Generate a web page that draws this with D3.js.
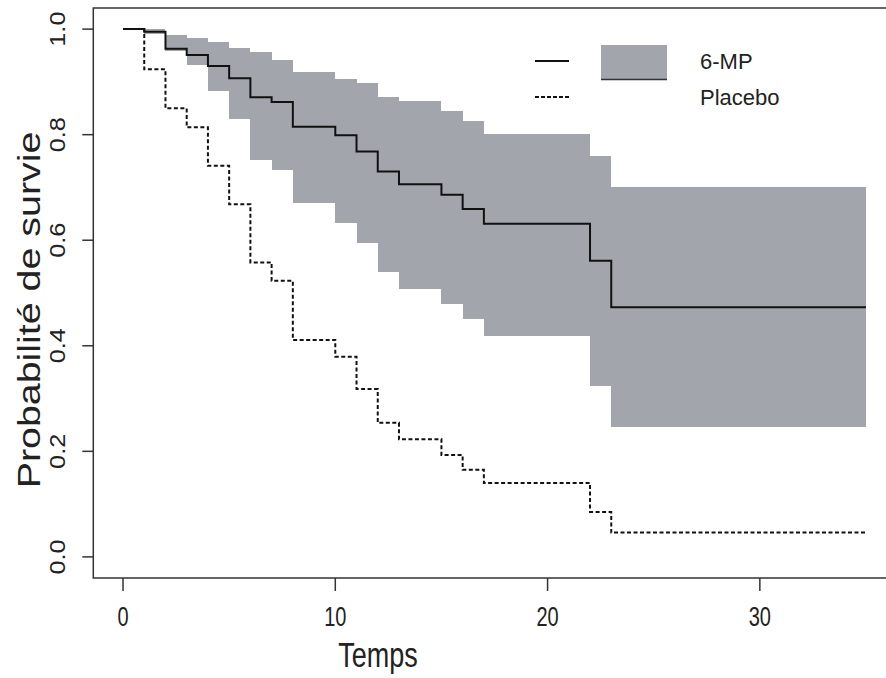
<!DOCTYPE html>
<html>
<head>
<meta charset="utf-8">
<script src="https://cdn.jsdelivr.net/npm/d3@7"></script>
<style>
  html, body { margin: 0; padding: 0; background: #fff; }
  svg { display: block; }
  text { font-family: "Liberation Sans", Arial, Helvetica, sans-serif; fill: #222; }
</style>
</head>
<body>
<div id="chart"></div>
<script>
// Step start times (same for both groups) and the end of follow-up
const stepTimes = [0, 1, 2, 3, 4, 5, 6, 7, 8, 10, 11, 12, 13, 15, 16, 17, 22, 23];
const endTime = 35;

// 6-MP survival with its confidence band
const mpSurv  = [1.0, 0.995, 0.963, 0.951, 0.930, 0.907, 0.871, 0.862, 0.815, 0.799, 0.768, 0.730, 0.706, 0.686, 0.659, 0.631, 0.561, 0.473];
const mpUpper = [1.0, 1.0, 0.989, 0.983, 0.975, 0.965, 0.956, 0.942, 0.919, 0.905, 0.897, 0.872, 0.864, 0.845, 0.826, 0.801, 0.759, 0.701];
const mpLower = [1.0, 0.99, 0.958, 0.932, 0.883, 0.829, 0.752, 0.734, 0.671, 0.633, 0.595, 0.540, 0.507, 0.479, 0.450, 0.419, 0.324, 0.247];

// Placebo survival
const placeboSurv = [1.0, 0.924, 0.850, 0.814, 0.741, 0.668, 0.558, 0.523, 0.411, 0.379, 0.318, 0.254, 0.223, 0.193, 0.165, 0.140, 0.085, 0.046];

const xTicks = [0, 10, 20, 30];
const yTicks = [0.0, 0.2, 0.4, 0.6, 0.8, 1.0];
const legendLabels = ["6-MP", "Placebo"];

const W = 886, H = 678;
const bandColor = "#a2a6ac";

const svg = d3.select("#chart").append("svg")
  .attr("width", W)
  .attr("height", H);

// R-style padded ranges (4% each side)
const x = d3.scaleLinear().domain([-1.4, 36.4]).range([93.3, 895.7]);
const y = d3.scaleLinear().domain([-0.04, 1.04]).range([578, 8]);

// build step points, holding the last value to the end time
function steps(vals) {
  const pts = stepTimes.map((t, i) => ({ t: t, v: vals[i] }));
  pts.push({ t: endTime, v: vals[vals.length - 1] });
  return pts;
}
function bandSteps() {
  const pts = stepTimes.map((t, i) => ({ t: t, lo: mpLower[i], hi: mpUpper[i] }));
  pts.push({ t: endTime, lo: mpLower[mpLower.length - 1], hi: mpUpper[mpUpper.length - 1] });
  return pts;
}

// Confidence band
const area = d3.area()
  .curve(d3.curveStepAfter)
  .x(d => x(d.t))
  .y0(d => y(d.lo))
  .y1(d => y(d.hi));

svg.append("path")
  .datum(bandSteps())
  .attr("d", area)
  .attr("fill", bandColor)
  .attr("shape-rendering", "crispEdges");

const line = d3.line()
  .curve(d3.curveStepAfter)
  .x(d => x(d.t))
  .y(d => y(d.v));

// Placebo (dashed)
svg.append("path")
  .datum(steps(placeboSurv))
  .attr("d", line)
  .attr("fill", "none")
  .attr("stroke", "#111")
  .attr("stroke-width", 2)
  .attr("stroke-dasharray", "4,2.5");

// 6-MP (solid)
svg.append("path")
  .datum(steps(mpSurv))
  .attr("d", line)
  .attr("fill", "none")
  .attr("stroke", "#111")
  .attr("stroke-width", 2);

// Box (right edge falls outside the picture)
svg.append("rect")
  .attr("x", x.range()[0])
  .attr("y", y.range()[1])
  .attr("width", x.range()[1] - x.range()[0])
  .attr("height", y.range()[0] - y.range()[1])
  .attr("fill", "none")
  .attr("stroke", "#333")
  .attr("stroke-width", 1.5);

// X axis
const xAxis = svg.append("g").attr("transform", `translate(0,${y.range()[0]})`);
xAxis.selectAll("line")
  .data(xTicks)
  .join("line")
  .attr("x1", d => x(d)).attr("x2", d => x(d))
  .attr("y1", 0).attr("y2", 13)
  .attr("stroke", "#333").attr("stroke-width", 1.5);
xAxis.selectAll("text")
  .data(xTicks)
  .join("text")
  .attr("transform", d => `translate(${x(d)},48) scale(1,1.35)`)
  .attr("text-anchor", "middle")
  .attr("font-size", 20)
  .text(d => d);

// Y axis
const yAxis = svg.append("g").attr("transform", `translate(${x.range()[0]},0)`);
yAxis.selectAll("line")
  .data(yTicks)
  .join("line")
  .attr("x1", 0).attr("x2", -11)
  .attr("y1", d => y(d)).attr("y2", d => y(d))
  .attr("stroke", "#333").attr("stroke-width", 1.5);
yAxis.selectAll("text")
  .data(yTicks)
  .join("text")
  .attr("transform", d => `translate(-28,${y(d)}) scale(1,1.15) rotate(-90)`)
  .attr("text-anchor", "middle")
  .attr("font-size", 22)
  .text(d => d3.format(".1f")(d));

// Axis titles
svg.append("text")
  .attr("transform", "translate(378,667) scale(1,1.3)")
  .attr("text-anchor", "middle")
  .attr("font-size", 27)
  .text("Temps");

svg.append("text")
  .attr("transform", "translate(40,310) scale(1,1.27) rotate(-90)")
  .attr("text-anchor", "middle")
  .attr("font-size", 31)
  .text("Probabilité de survie");

// Legend
const legend = svg.append("g");
legend.append("line")
  .attr("x1", 535).attr("x2", 569).attr("y1", 61).attr("y2", 61)
  .attr("stroke", "#111").attr("stroke-width", 2);
legend.append("line")
  .attr("x1", 535).attr("x2", 569).attr("y1", 97).attr("y2", 97)
  .attr("stroke", "#111").attr("stroke-width", 2)
  .attr("stroke-dasharray", "4,2");
legend.append("rect")
  .attr("x", 601).attr("y", 45).attr("width", 66).attr("height", 35)
  .attr("fill", bandColor);
legend.append("line")
  .attr("x1", 601).attr("x2", 667).attr("y1", 79.5).attr("y2", 79.5)
  .attr("stroke", "#333").attr("stroke-width", 1.5);
legend.selectAll("text.lab")
  .data(legendLabels)
  .join("text")
  .attr("class", "lab")
  .attr("x", 700)
  .attr("y", (d, i) => 69 + i * 36)
  .attr("font-size", 22)
  .text(d => d);
</script>
</body>
</html>
